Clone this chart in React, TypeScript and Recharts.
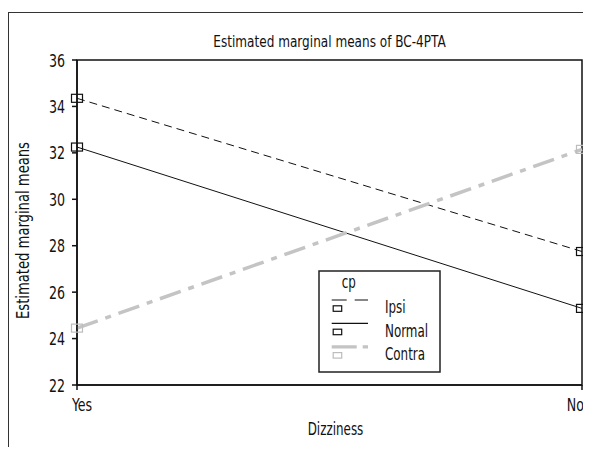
import React from 'react';
import { LineChart, Line, XAxis, YAxis, ReferenceArea } from 'recharts';

const categories = ['Yes', 'No'];
const ipsi = [34.35, 27.75];
const normal = [32.25, 25.3];
const contra = [24.45, 32.15];
const yTicks = [22, 24, 26, 28, 30, 32, 34, 36];
const seriesNames = ['Ipsi', 'Normal', 'Contra'];
const chartTitle = 'Estimated marginal means of BC-4PTA';
const xTitle = 'Dizziness';
const yTitle = 'Estimated marginal means';
const legendTitle = 'cp';

const data = categories.map((c, i) => ({ name: c, Ipsi: ipsi[i], Normal: normal[i], Contra: contra[i] }));

const FONT = '"DejaVu Sans Condensed", "DejaVu Sans", sans-serif';

const styles: Record<string, { stroke: string; width: number; dash?: string; marker: string; lDash?: string }> = {
  Ipsi: { stroke: '#111', width: 1, dash: '8 5', marker: '#111', lDash: '15 8' },
  Normal: { stroke: '#111', width: 1, marker: '#111' },
  Contra: { stroke: '#c4c4c4', width: 3.5, dash: '22 8 6 8', marker: '#bdbdbd', lDash: '25 6 6 6' },
};

type STextProps = { x: number; y: number; size: number; sx?: number; anchor?: 'start' | 'middle' | 'end'; rotate?: number; children: React.ReactNode };
const SText = ({ x, y, size, sx = 0.78, anchor = 'start', rotate = 0, children }: STextProps) => (
  <text transform={`translate(${x},${y}) rotate(${rotate}) scale(${sx},1)`} textAnchor={anchor}
    fontFamily={FONT} fontSize={size} fill="#111">{children}</text>
);

const makeDot = (color: string) => (props: any) => {
  const { cx, cy, index } = props;
  if (cx == null || cy == null) return <g key={index} />;
  return <rect key={index} x={cx - 5.5} y={cy - 4} width={11} height={8} fill="none" stroke={color} strokeWidth={1.2} />;
};

const YTick = (props: any) => {
  const { x, y, payload } = props;
  return <SText x={x} y={y + 6.5} size={18} anchor="end">{payload.value}</SText>;
};

const XTick = (props: any) => {
  const { x, y, payload, index } = props;
  const first = index === 0;
  return (
    <SText x={first ? x - 5 : x + 2} y={y + 21} size={18} anchor={first ? 'start' : 'end'}>{payload.value}</SText>
  );
};

const LegendBox = () => (
  <svg width={124} height={104} style={{ position: 'absolute', left: 310, top: 262 }}>
    <rect x={1} y={1} width={121} height={101} fill="#fff" stroke="#222" strokeWidth={1.5} />
    <SText x={23.7} y={18.3} size={17}>{legendTitle}</SText>
    {seriesNames.map((n, i) => {
      const s = styles[n];
      const base = 30 + i * 23.4;
      return (
        <g key={n}>
          <line x1={13.7} x2={50} y1={base} y2={base} stroke={s.stroke} strokeWidth={s.width === 1 ? 1.2 : 3.3} strokeDasharray={s.lDash} />
          <rect x={15.2} y={base + 5.8} width={8.5} height={5.5} fill="none" stroke={s.marker} strokeWidth={1.2} />
          <SText x={67} y={base + 13.3} size={17}>{n}</SText>
        </g>
      );
    })}
  </svg>
);

export default function App() {
  return (
    <div style={{ position: 'relative', width: 583, height: 439, overflow: 'hidden', fontFamily: FONT }}>
      <div style={{ position: 'absolute', left: 0, top: 4, width: 620, height: 500, border: '1.5px solid #333' }} />
      <div style={{ position: 'absolute', left: 0, top: 0 }}>
        <LineChart width={600} height={439} data={data} margin={{ top: 52, right: 26, bottom: 0, left: 0 }}>
          <SText x={321.5} y={38.7} size={16} sx={0.84} anchor="middle">{chartTitle}</SText>
          <SText x={327.5} y={427} size={17} anchor="middle">{xTitle}</SText>
          <SText x={21} y={222.5} size={17} sx={0.86} anchor="middle" rotate={-90}>{yTitle}</SText>
          <XAxis dataKey="name" tickSize={5} tickMargin={0} stroke="#111" strokeWidth={1.5} height={62} tick={XTick} />
          <YAxis domain={[22, 36]} ticks={yTicks} width={69} tickSize={5} tickMargin={7} stroke="#111" strokeWidth={1.5} interval={0} tick={YTick} />
          <ReferenceArea x1="Yes" x2="No" y1={22} y2={36} fill="none" stroke="#111" strokeWidth={1.5} ifOverflow="visible" />
          {seriesNames.map((n) => (
            <Line key={n} type="linear" dataKey={n} stroke={styles[n].stroke} strokeWidth={styles[n].width}
              strokeDasharray={styles[n].dash} dot={makeDot(styles[n].marker)} activeDot={false} isAnimationActive={false} />
          ))}
        </LineChart>
      </div>
      <LegendBox />
    </div>
  );
}
